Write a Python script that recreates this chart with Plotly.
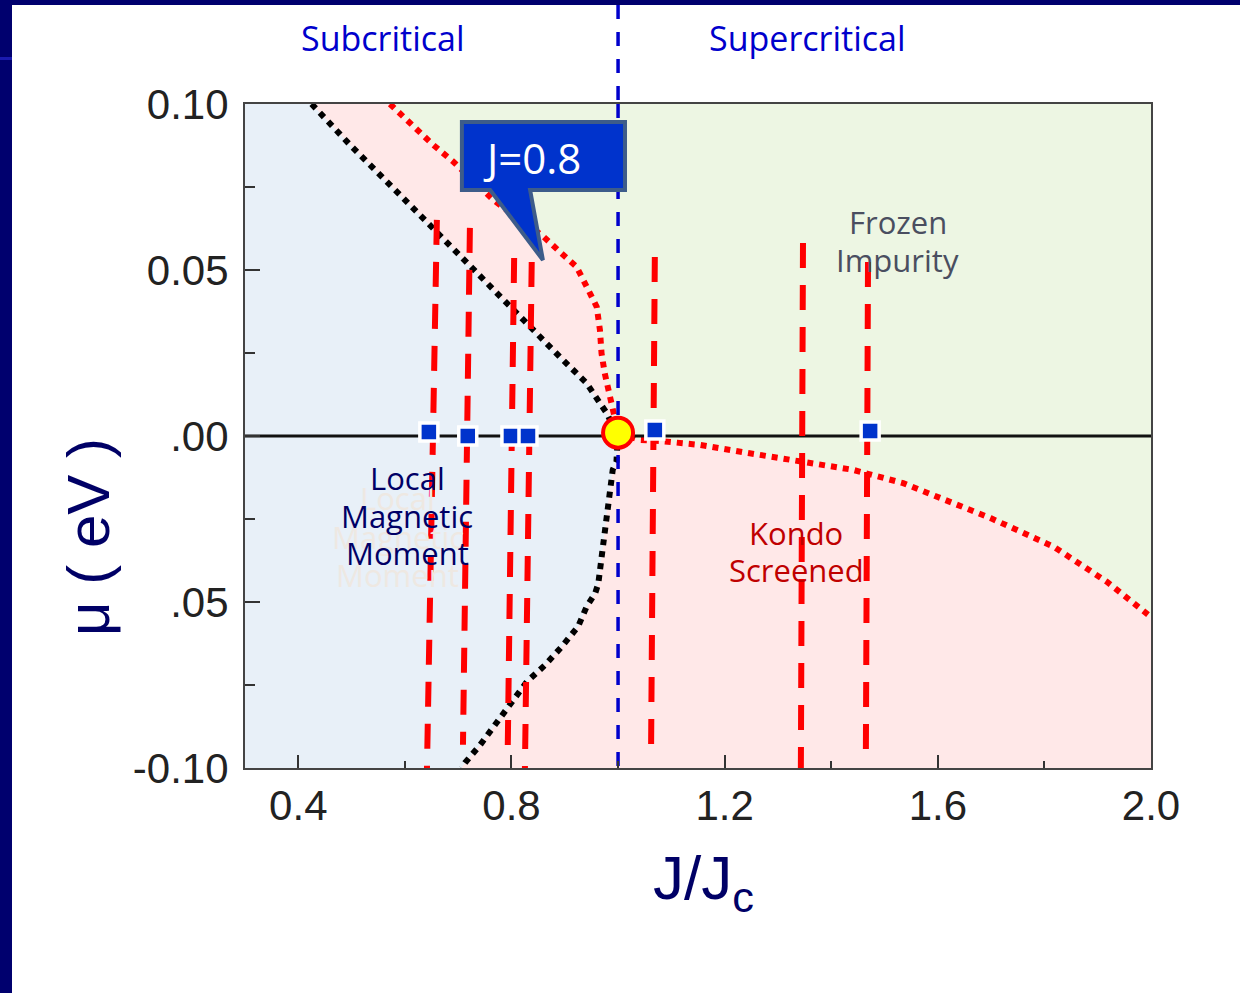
import plotly.graph_objects as go

# ---------------------------------------------------------------- data
J_RANGE = [0.3, 2.0]
MU_RANGE = [-0.10, 0.10]

# local-moment boundary (black dotted), upper branch mu > 0
lm_up_J = [0.425, 0.497, 0.591, 0.685, 0.778, 0.891, 0.941, 0.979, 0.992, 1.000]
lm_up_mu = [0.100, 0.0877, 0.0726, 0.0572, 0.0419, 0.0238, 0.0159, 0.0068, 0.0024, 0.001]

# local-moment boundary, lower branch mu < 0
lm_lo_J = [1.000, 0.997, 0.990, 0.979, 0.972, 0.963, 0.957, 0.941, 0.925,
           0.894, 0.863, 0.829, 0.800, 0.772, 0.741, 0.713, 0.706]
lm_lo_mu = [0.001, -0.0077, -0.0102, -0.0223, -0.0328, -0.0444, -0.0474, -0.0514,
            -0.0574, -0.0635, -0.0690, -0.0740, -0.0805, -0.0865, -0.0931, -0.0984, -0.100]

# Kondo / frozen-impurity boundary (red dotted), upper branch
fz_up_J = [0.572, 0.616, 0.653, 0.691, 0.728, 0.766, 0.800, 0.830, 0.857, 0.894,
           0.922, 0.941, 0.960, 0.966, 0.969, 0.975, 0.982, 0.988, 1.000]
fz_up_mu = [0.100, 0.0932, 0.0877, 0.0826, 0.0771, 0.0711, 0.0670, 0.0638, 0.0605, 0.0550,
            0.0510, 0.0450, 0.0389, 0.0319, 0.0249, 0.0189, 0.0139, 0.0088, 0.001]

# Kondo / frozen-impurity boundary, lower branch
fz_lo_J = [1.000, 1.041, 1.079, 1.154, 1.247, 1.341, 1.441, 1.535, 1.623, 1.700,
           1.817, 1.917, 2.000]
fz_lo_mu = [0.001, -0.0012, -0.0015, -0.0027, -0.0052, -0.0077, -0.0102, -0.0142,
            -0.0198, -0.0248, -0.0333, -0.0439, -0.0545]

# vertical cuts at fixed J (red dashed)
cut_J_top = [0.660, 0.722, 0.805, 0.838, 1.069, 1.347, 1.469]
cut_mu_top = [0.0651, 0.0627, 0.0536, 0.0524, 0.0539, 0.0581, 0.0524]
cut_J_bot = [0.641, 0.709, 0.793, 0.825, 1.062, 1.343, 1.465]
cut_mu_bot = [-0.104, -0.093, -0.094, -0.103, -0.0934, -0.1006, -0.095]

# computed points on the mu = 0 line
pt_J = [0.645, 0.718, 0.799, 0.831, 1.069, 1.473]
pt_mu = [0.0012, 0.0, 0.0, 0.0, 0.0018, 0.0015]

# critical point
JC = 1.0
MU_C = 0.001

x_ticks = [0.4, 0.8, 1.2, 1.6, 2.0]
x_ticktext = ["0.4", "0.8", "1.2", "1.6", "2.0"]
y_ticks = [-0.10, -0.05, 0.00, 0.05, 0.10]
y_ticktext = ["-0.10", ".05", ".00", "0.05", "0.10"]

# ---------------------------------------------------------------- layout geometry
W, H = 1240, 993
ML, MR, MT, MB = 245, 89, 104, 225
PW, PH = W - ML - MR, H - MT - MB


def px(xp):
    return (xp - ML) / PW


def py(yp):
    return (H - MB - yp) / PH


BLUE_BG = "#E8F0F8"
PINK_BG = "#FFE8E8"
GREEN_BG = "#EDF6E3"
NAVY = "#000066"
DIVIDER = dict(color="#0000CC", width=3.5, dash="14px,13px")

fig = go.Figure()

# local-moment region (blue)
fig.add_trace(go.Scatter(
    x=[J_RANGE[0]] + lm_up_J + lm_lo_J[1:] + [J_RANGE[0]],
    y=[MU_RANGE[1]] + lm_up_mu + lm_lo_mu[1:] + [MU_RANGE[0]],
    fill="toself", fillcolor=BLUE_BG, mode="lines", line=dict(width=0),
    hoverinfo="skip", showlegend=False))

# frozen-impurity region (green)
fig.add_trace(go.Scatter(
    x=fz_up_J[:1] + [J_RANGE[1]] + fz_lo_J[::-1] + fz_up_J[::-1][1:],
    y=[MU_RANGE[1], MU_RANGE[1]] + fz_lo_mu[::-1] + fz_up_mu[::-1][1:],
    fill="toself", fillcolor=GREEN_BG, mode="lines", line=dict(width=0),
    hoverinfo="skip", showlegend=False))

# phase boundaries
dot = "6px,6px"
for xs, ys, col in [(lm_up_J, lm_up_mu, "black"), (lm_lo_J, lm_lo_mu, "black"),
                    (fz_up_J, fz_up_mu, "#FF0000"), (fz_lo_J, fz_lo_mu, "#FF0000")]:
    fig.add_trace(go.Scatter(x=xs, y=ys, mode="lines",
                             line=dict(color=col, width=6, dash=dot),
                             hoverinfo="skip", showlegend=False))

# mu = 0 line
fig.add_trace(go.Scatter(x=J_RANGE, y=[0, 0], mode="lines",
                         line=dict(color="#111111", width=3),
                         hoverinfo="skip", showlegend=False))

# red dashed cuts
for x0, y0, x1, y1 in zip(cut_J_top, cut_mu_top, cut_J_bot, cut_mu_bot):
    fig.add_trace(go.Scatter(x=[x0, x1], y=[y0, y1], mode="lines",
                             line=dict(color="#FF0000", width=6, dash="25px,17px"),
                             hoverinfo="skip", showlegend=False))

# J = Jc divider inside the axes
fig.add_trace(go.Scatter(x=[JC, JC], y=[MU_RANGE[1], MU_RANGE[0]], mode="lines",
                         line=DIVIDER, hoverinfo="skip", showlegend=False))

# points on the mu = 0 line
fig.add_trace(go.Scatter(x=pt_J, y=pt_mu, mode="markers",
                         marker=dict(symbol="square", size=18, color="#0033CC",
                                     line=dict(color="white", width=3.5)),
                         hoverinfo="skip", showlegend=False, cliponaxis=False))
# critical point
fig.add_trace(go.Scatter(x=[JC], y=[MU_C], mode="markers",
                         marker=dict(symbol="circle", size=30, color="#FFFF00",
                                     line=dict(color="#FF0000", width=4)),
                         hoverinfo="skip", showlegend=False, cliponaxis=False))

shapes = []
# J = Jc divider continued above the axes, up to the header
shapes.append(dict(type="line", xref="x", yref="paper", x0=JC, x1=JC,
                   y0=py(5), y1=1, line=DIVIDER, layer="above"))
# callout for J = 0.8
cx = [0.707, 1.013, 0.835, 0.859, 0.760]
cy = [0.0946, 0.0741, 0.0530]
callout = (f"M {cx[0]},{cy[0]} L {cx[1]},{cy[0]} L {cx[1]},{cy[1]} L {cx[2]},{cy[1]} "
           f"L {cx[3]},{cy[2]} L {cx[4]},{cy[1]} L {cx[0]},{cy[1]} Z")
shapes.append(dict(type="path", xref="x", yref="y", path=callout,
                   fillcolor="#0033CC", line=dict(color="#3D5C8A", width=4),
                   layer="above"))
# navy slide frame
shapes.append(dict(type="rect", xref="paper", yref="paper",
                   x0=px(0), x1=px(12), y0=py(H), y1=py(0),
                   fillcolor="#00006E", line=dict(width=0), layer="above"))
shapes.append(dict(type="rect", xref="paper", yref="paper",
                   x0=px(0), x1=px(W), y0=py(5), y1=py(0),
                   fillcolor="#00006E", line=dict(width=0), layer="above"))
shapes.append(dict(type="rect", xref="paper", yref="paper",
                   x0=px(0), x1=px(12), y0=py(60), y1=py(57),
                   fillcolor="#1A1AB0", line=dict(width=0), layer="above"))

annotations = []
LABEL_FONT = "Open Sans"


def note(x, y, text, font, xref="x", yref="y", **kw):
    annotations.append(dict(x=x, y=y, xref=xref, yref=yref, text=text, showarrow=False,
                            font=font, xanchor="center", yanchor="middle", **kw))


def stacked(lines, x, y_list, color, size):
    for txt, yv in zip(lines, y_list):
        note(x, yv, txt, dict(family=LABEL_FONT, size=size, color=color))


# faint echo of the region label
stacked(["Local", "Magnetic", "Moment"], 0.587, [-0.0187, -0.0304, -0.0419], "#EEE8E2", 31)
stacked(["Local", "Magnetic", "Moment"], 0.604, [-0.0127, -0.0241, -0.0352], NAVY, 31)
stacked(["Frozen", "Impurity"], 1.525, [0.0645, 0.0530], "#4A4E60", 31)
stacked(["Kondo", "Screened"], 1.334, [-0.0292, -0.0404], "#C00000", 31)

note(0.8385, 0.0840, "J=0.8", dict(family=LABEL_FONT, size=42, color="white"))

note(0.559, py(38), "Subcritical", dict(family=LABEL_FONT, size=34, color="#0000CC"),
     yref="paper")
note(1.356, py(38), "Supercritical", dict(family=LABEL_FONT, size=34, color="#0000CC"),
     yref="paper")

# axis titles
note(px(703), py(882), "J/J<sub>c</sub>",
     dict(family="Liberation Sans, Arial", size=62, color=NAVY), xref="paper", yref="paper")
note(px(88), py(537), "\u03bc ( eV )",
     dict(family="Liberation Sans, Arial", size=60, color=NAVY), xref="paper", yref="paper",
     textangle=-90)

axis_common = dict(showgrid=False, zeroline=False, showline=True, mirror=True,
                   linecolor="#444444", linewidth=2, ticks="inside", tickcolor="#333333",
                   tickwidth=2,
                   tickfont=dict(family="Liberation Sans, Arial", size=42, color="#222222"))

fig.update_layout(
    width=W, height=H,
    margin=dict(l=ML, r=MR, t=MT, b=MB, pad=0),
    paper_bgcolor="white", plot_bgcolor=PINK_BG,
    showlegend=False,
    xaxis=dict(range=J_RANGE, tickvals=x_ticks, ticktext=x_ticktext, ticklen=13,
               ticklabelstandoff=0,
               minor=dict(dtick=0.2, tick0=0.0, ticklen=7, ticks="inside",
                          tickcolor="#333333", tickwidth=2),
               **axis_common),
    yaxis=dict(range=MU_RANGE, tickvals=y_ticks, ticktext=y_ticktext, ticklen=15,
               ticklabelstandoff=6,
               minor=dict(dtick=0.025, tick0=0.0, ticklen=10, ticks="inside",
                          tickcolor="#333333", tickwidth=2),
               **axis_common),
    shapes=shapes,
    annotations=annotations,
)

fig.write_html("out.html")
